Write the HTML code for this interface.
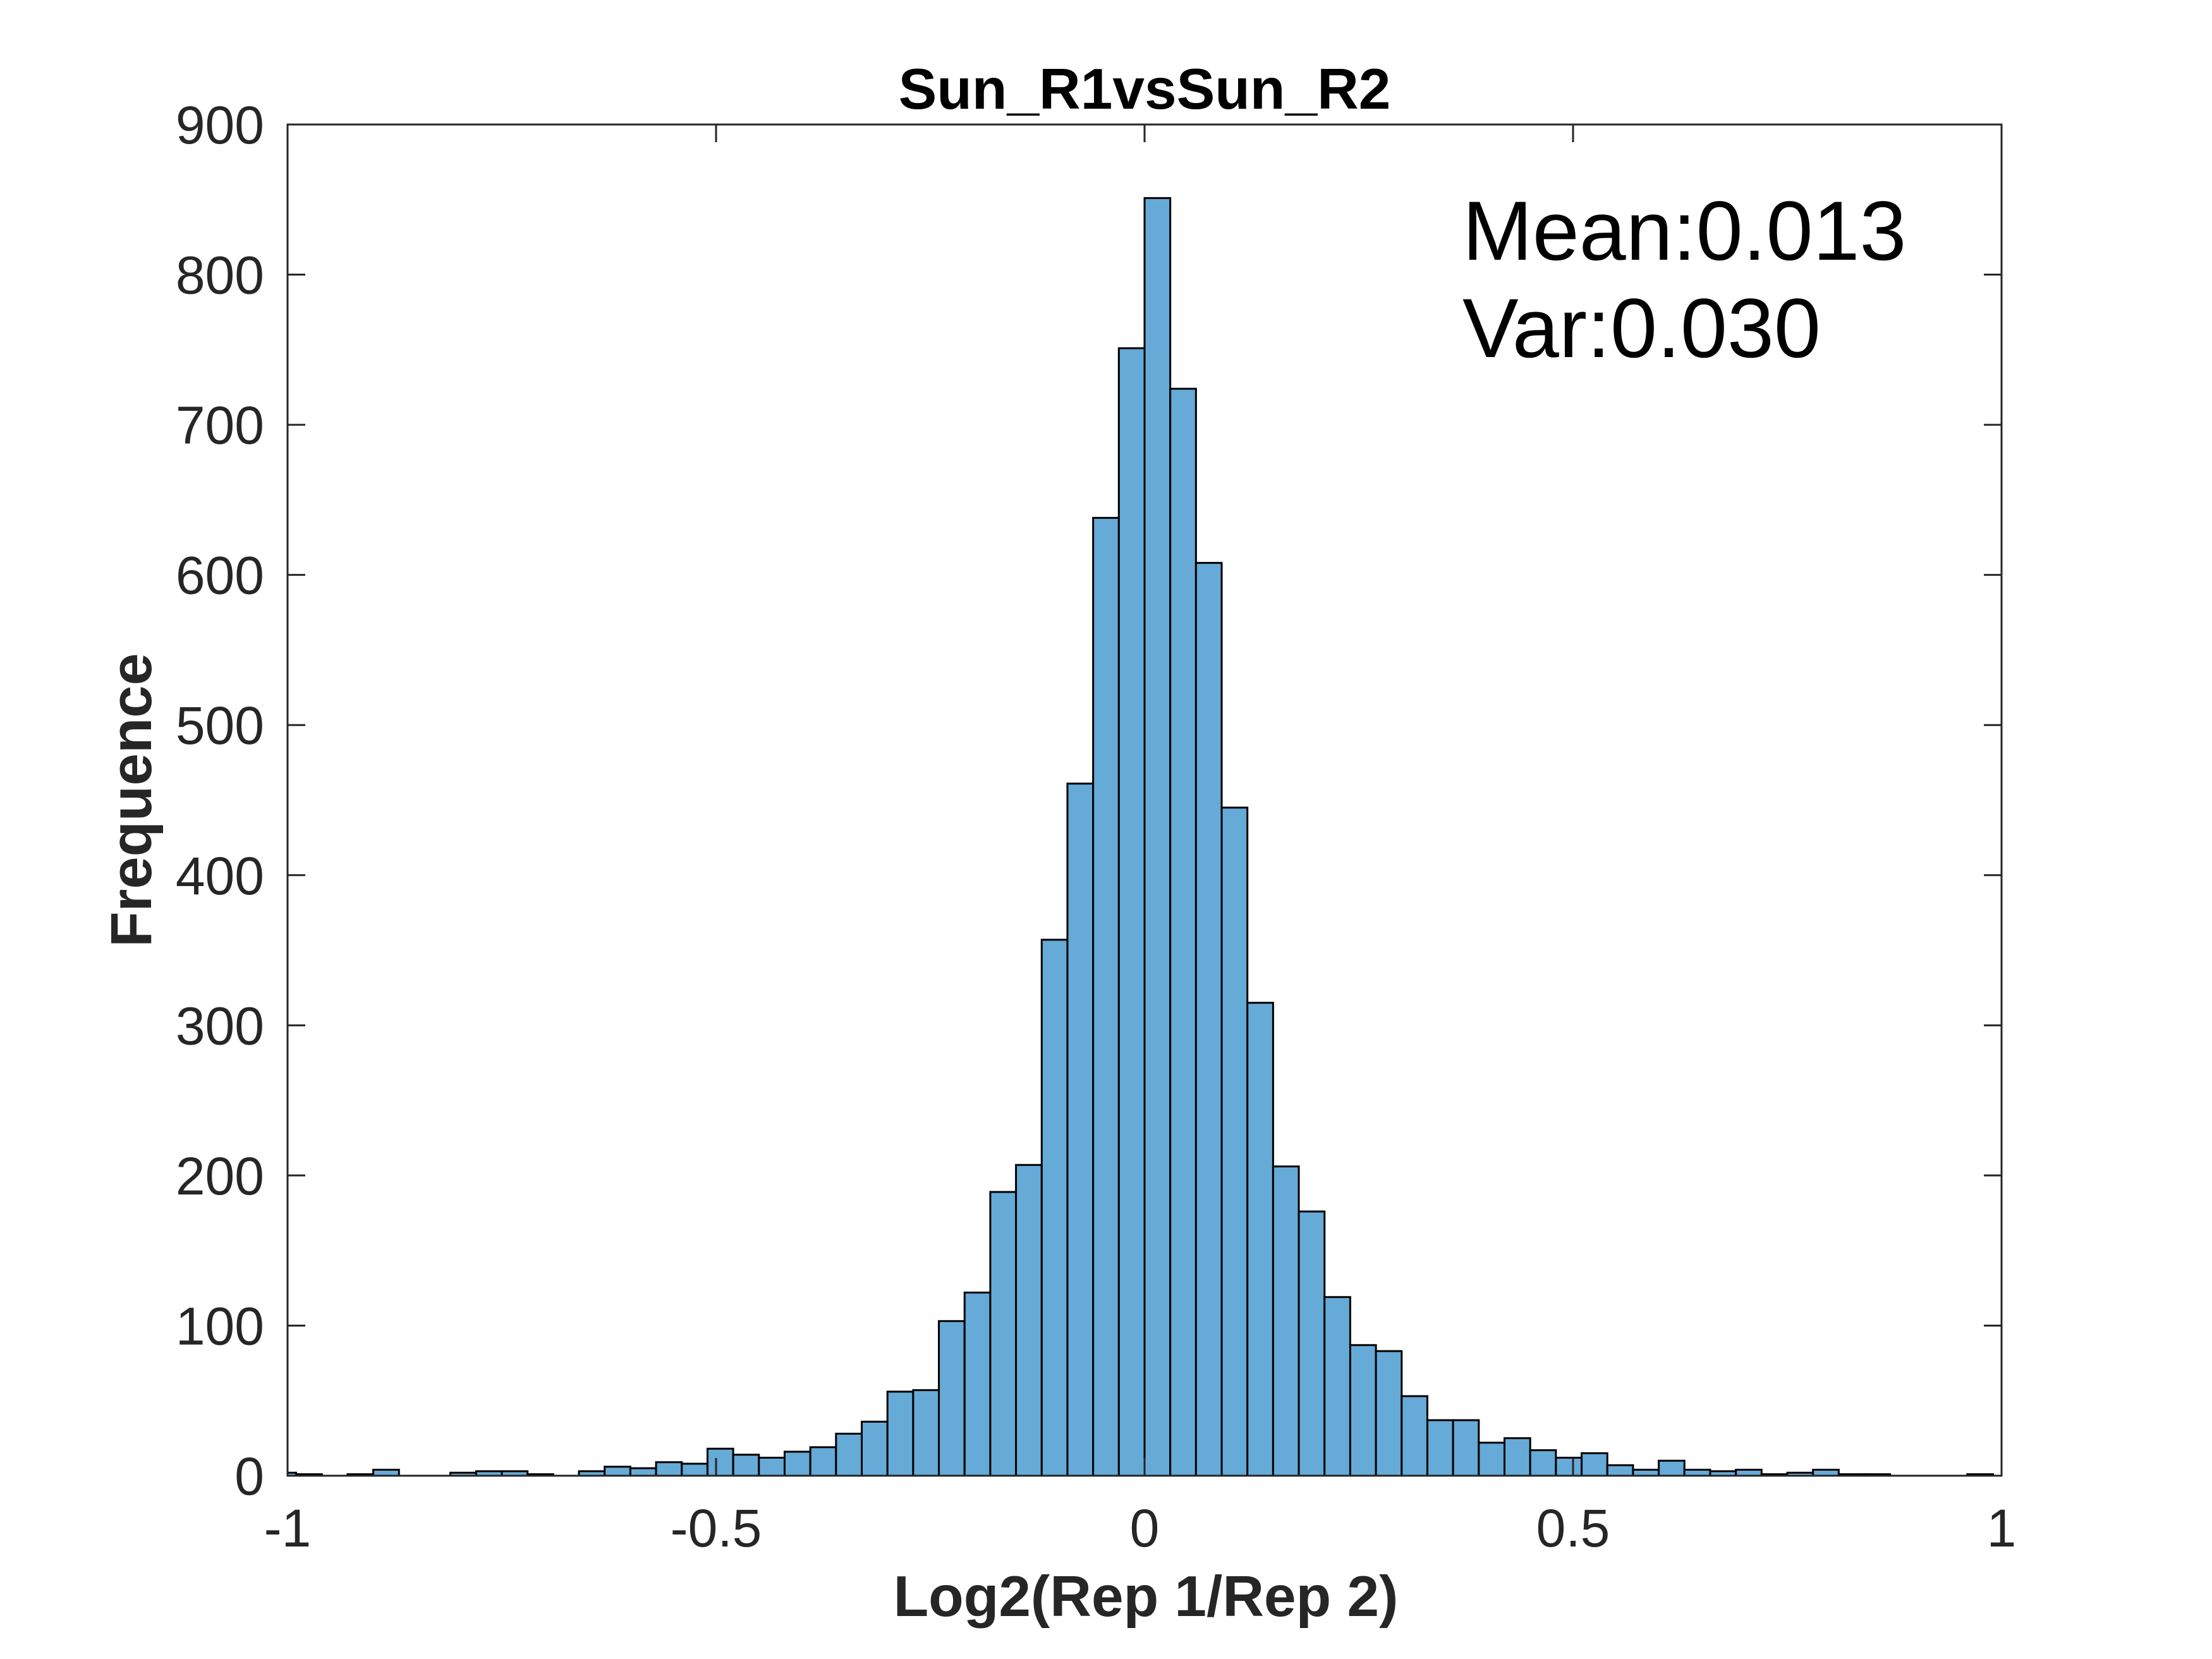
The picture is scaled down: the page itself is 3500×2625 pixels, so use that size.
<!DOCTYPE html>
<html><head><meta charset="utf-8"><style>
html,body{margin:0;padding:0;background:#fff;}
svg{display:block;font-family:"Liberation Sans",Arial,sans-serif;}
</style></head><body>
<svg id="chart" width="3500" height="2625" viewBox="0 0 3500 2625" xmlns="http://www.w3.org/2000/svg">
<rect x="0" y="0" width="3500" height="2625" fill="#fff"/>
<g id="bars"></g>
<g id="axes"></g>
<text x="1811" y="172" font-size="91" font-weight="bold" text-anchor="middle" fill="#000">Sun_R1vsSun_R2</text>
<text x="1813" y="2557" font-size="91" font-weight="bold" text-anchor="middle" fill="#262626">Log2(Rep 1/Rep 2)</text>
<text x="239" y="1266" font-size="92" font-weight="bold" text-anchor="middle" fill="#262626" transform="rotate(-90 239 1266)">Frequence</text>
<text x="2314" y="411" font-size="133" fill="#000">Mean:0.013</text>
<text x="2314" y="565" font-size="133" fill="#000">Var:0.030</text>
</svg>
<script>
const binWidth = 0.03;
const firstBinStart = -1.02;
const counts = [2,1,0,1,4,0,0,2,3,3,1,0,3,6,5,9,8,18,14,12,16,19,28,36,56,57,103,122,189,207,357,461,638,751,
851,724,608,445,315,206,176,119,87,83,53,37,37,22,25,17,12,15,7,4,10,4,3,4,1,2,4,1,1,0,0,0,1];
const xTicks = [-1,-0.5,0,0.5,1];
const xTickLabels = ["-1","-0.5","0","0.5","1"];
const yTicks = [0,100,200,300,400,500,600,700,800,900];
const yTickLabels = ["0","100","200","300","400","500","600","700","800","900"];

const L=455,R=3167,T=197,B=2335;
const xMin=-1,xMax=1,yMin=0,yMax=900;
const sx=v=>L+(v-xMin)/(xMax-xMin)*(R-L);
const sy=v=>B-(v-yMin)/(yMax-yMin)*(B-T);
const NS="http://www.w3.org/2000/svg";
const barsG=document.getElementById('bars');
const axesG=document.getElementById('axes');
function mk(tag,attrs,parent){const e=document.createElementNS(NS,tag);for(const k in attrs)e.setAttribute(k,attrs[k]);parent.appendChild(e);return e;}

counts.forEach((c,i)=>{
  let x0=firstBinStart+i*binWidth, x1=x0+binWidth;
  x0=Math.max(x0,xMin); x1=Math.min(x1,xMax);
  if(x1<=x0) return;
  const r=mk('rect',{x:sx(x0),y:sy(c),width:sx(x1)-sx(x0),height:sy(0)-sy(c),fill:'#66aad7',stroke:'#000','stroke-width':3},barsG);
  
  
});

const frame=mk('rect',{x:L,y:T,width:R-L,height:B-T,fill:'none',stroke:'#262626','stroke-width':3},axesG);



xTicks.forEach((v,i)=>{
  const x=sx(v);
  const t1=mk('line',{x1:x,y1:B,x2:x,y2:B-28,stroke:'#262626','stroke-width':3},axesG);
  
  
  const t2=mk('line',{x1:x,y1:T,x2:x,y2:T+28,stroke:'#262626','stroke-width':3},axesG);
  
  
  const tx=mk('text',{x:x,y:2447,'font-size':84,'text-anchor':'middle',fill:'#262626'},axesG);
  tx.textContent=xTickLabels[i];
  
  
});
yTicks.forEach((v,i)=>{
  const y=sy(v);
  const t1=mk('line',{x1:L,y1:y,x2:L+28,y2:y,stroke:'#262626','stroke-width':3},axesG);
  
  
  const t2=mk('line',{x1:R,y1:y,x2:R-28,y2:y,stroke:'#262626','stroke-width':3},axesG);
  
  
  const tx=mk('text',{x:418,y:y+30,'font-size':84,'text-anchor':'end',fill:'#262626'},axesG);
  tx.textContent=yTickLabels[i];
  
  
});
</script>
</body></html>
